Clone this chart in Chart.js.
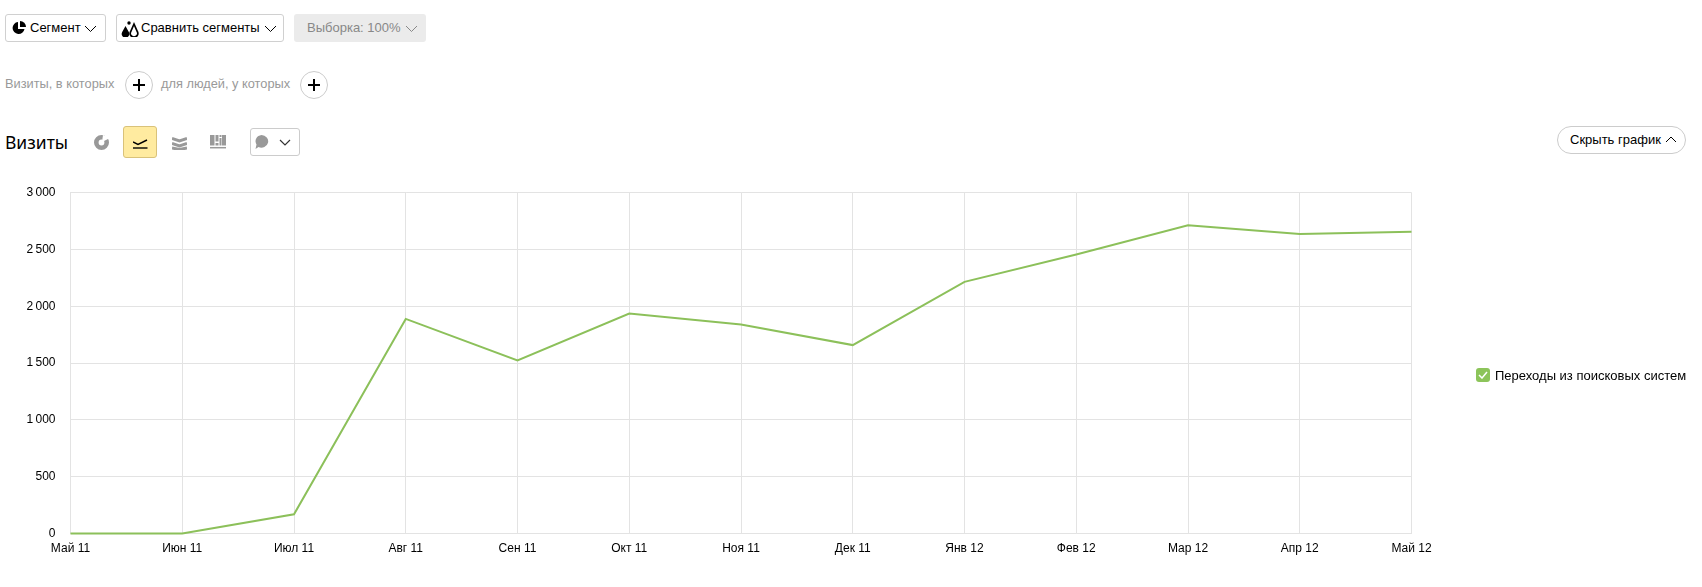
<!DOCTYPE html>
<html lang="ru">
<head>
<meta charset="utf-8">
<title>Визиты</title>
<script src="https://cdn.jsdelivr.net/npm/chart.js@4/dist/chart.umd.min.js"></script>
<style>
  html, body { margin: 0; padding: 0; background: #fff; width: 1702px; height: 587px; overflow: hidden; }
  body { position: relative; font-family: "Liberation Sans", Arial, sans-serif; font-size: 13px; color: #000; }
  .abs { position: absolute; box-sizing: border-box; white-space: nowrap; }
  .btn { height: 28px; border: 1px solid #d0d0d0; border-radius: 3px; line-height: 26px; background: #fff; }
  .btn svg, .round svg { position: absolute; }
  .grey { color: #999; font-size: 12.800px; }
  .round { width: 28px; height: 28px; border: 1px solid #ccc; border-radius: 50%; }
  #chartBox { position: absolute; left: 0; top: 170px; width: 1500px; height: 394px; }
</style>
</head>
<body>
<div class="abs btn" style="left:5px;top:14px;width:101px;">
  <svg style="left:6px;top:6px" width="14" height="14" viewBox="0 0 14 14"><path d="M6 1a6 6 0 1 0 6.500 7H6z" fill="#000"/><path d="M8 0a6 6 0 0 1 6 6H8z" fill="#000"/></svg>
  <span class="abs" style="left:24px;top:0">Сегмент</span>
  <svg style="left:78px;top:10px" width="13" height="8" viewBox="0 0 13 8"><path d="M1 1l5.500 5.500L12 1" fill="none" stroke="#000"/></svg>
</div>
<div class="abs btn" style="left:116px;top:14px;width:168px;">
  <svg style="left:4px;top:6px" width="18" height="16" viewBox="0 0 18 16"><path d="M4.500 5l3.300 6a3.800 3.800 0 1 1-6.600 0z" fill="#000"/><path d="M13 3l3.300 7.500a3.800 3.800 0 1 1-6.600 0z" fill="none" stroke="#000" stroke-width="1.700"/><circle cx="8" cy="2" r="1.700" fill="#000"/></svg>
  <span class="abs" style="left:24px;top:0">Сравнить сегменты</span>
  <svg style="left:147px;top:10px" width="13" height="8" viewBox="0 0 13 8"><path d="M1 1l5.500 5.500L12 1" fill="none" stroke="#000"/></svg>
</div>
<div class="abs" style="left:294px;top:14px;width:132px;height:28px;background:#ebebeb;border-radius:3px;line-height:27px;color:#888;">
  <span class="abs" style="left:13px;top:0">Выборка: 100%</span>
  <svg class="abs" style="left:111px;top:11px" width="13" height="8" viewBox="0 0 13 8"><path d="M1 1l5.500 5.500L12 1" fill="none" stroke="#888"/></svg>
</div>

<span class="abs grey" style="left:5px;top:76px;">Визиты, в которых</span>
<div class="abs round" style="left:125px;top:71px;"><svg style="left:6px;top:6px" width="14" height="14" viewBox="0 0 14 14"><path d="M7 1v12M1 7h12" stroke="#000" stroke-width="2"/></svg></div>
<span class="abs grey" style="left:161px;top:76px;">для людей, у которых</span>
<div class="abs round" style="left:300px;top:71px;"><svg style="left:6px;top:6px" width="14" height="14" viewBox="0 0 14 14"><path d="M7 1v12M1 7h12" stroke="#000" stroke-width="2"/></svg></div>

<span class="abs" style="left:5px;top:129px;font-family:'Noto Sans',sans-serif;font-size:17.500px;line-height:26px;">Визиты</span>
<svg class="abs" style="left:94px;top:135px" width="15" height="15" viewBox="0 0 15 15"><circle cx="7.500" cy="7.500" r="5.200" fill="none" stroke="#999" stroke-width="4.600"/><path d="M8 7l7-3.500-1-2L9 0z" fill="#fff"/></svg>
<div class="abs" style="left:123px;top:126px;width:34px;height:32px;background:#ffeba0;border:1px solid #d9c27a;border-radius:3px;">
  <svg class="abs" style="left:9px;top:11px" width="15" height="11" viewBox="0 0 15 11"><path d="M0 4l5 2.500L14 2" fill="none" stroke="#000" stroke-width="1.400"/><path d="M0 10h14.500" stroke="#000" stroke-width="1.400"/></svg>
</div>
<svg class="abs" style="left:172px;top:136px" width="15" height="14" viewBox="0 0 15 14"><path d="M0 2.500l7.500 2.500L15 2.500M0 7.500l7.500 2.500L15 7.500M0 12l7.500 1.500L15 12" fill="none" stroke="#999" stroke-width="3"/></svg>
<svg class="abs" style="left:210px;top:134px" width="16" height="15" viewBox="0 0 16 15"><path d="M0 1h4.500v10.500H0zM5.500 1h3v6.500h-3zM5.500 9h3v2.500h-3zM9.500 4h2v7.500h-2zM9.500 1h2v2h-2zM12 1h4v10.500h-4z" fill="#999"/><path d="M0 13.700h16" stroke="#999" stroke-width="1.500"/></svg>
<div class="abs btn" style="left:250px;top:128px;width:50px;height:28px;border-color:#ccc;">
  <svg style="left:3px;top:5px" width="15" height="16" viewBox="0 0 15 16"><path d="M7.500 1a6.800 6.300 0 1 1-3 12L1.500 15l1-4.500A6.800 6.300 0 0 1 7.500 1z" fill="#999"/></svg>
  <svg style="left:28px;top:10px" width="12" height="8" viewBox="0 0 12 8"><path d="M1 1l5 5 5-5" fill="none" stroke="#333" stroke-width="1.200"/></svg>
</div>

<div class="abs" style="left:1557px;top:126px;width:129px;height:28px;border:1px solid #ccc;border-radius:14px;">
  <span class="abs" style="left:12px;top:0;line-height:26px;">Скрыть график</span>
  <svg class="abs" style="left:107px;top:8px" width="12" height="8" viewBox="0 0 12 8"><path d="M1 7l5-5 5 5" fill="none" stroke="#000"/></svg>
</div>

<div id="chartBox"><canvas id="chart"></canvas></div>

<div class="abs" style="left:1476px;top:368px;width:14px;height:14px;background:#8cc45a;border-radius:3px;">
  <svg class="abs" style="left:2px;top:3px" width="10" height="8" viewBox="0 0 10 8"><path d="M1 4l3 3 5-6" fill="none" stroke="#fff" stroke-width="1.500"/></svg>
</div>
<span class="abs" id="legendLabel" style="left:1495px;top:368px;line-height:16px;"></span>

<script>
const months = ["Май 11", "Июн 11", "Июл 11", "Авг 11", "Сен 11", "Окт 11", "Ноя 11", "Дек 11", "Янв 12", "Фев 12", "Мар 12", "Апр 12", "Май 12"]
const visits = [0, 0, 170, 1888, 1524, 1936, 1840, 1658, 2214, 2454, 2712, 2636, 2655]
const seriesName = "Переходы из поисковых систем"
const yTicks = [0, 500, 1000, 1500, 2000, 2500, 3000]

document.querySelector("#legendLabel").innerText = seriesName

const gridColor = "#e3e3e3"
const tickFont = { family: "'Liberation Sans', Arial, sans-serif", size: 12 }

new Chart(document.querySelector("#chart").getContext("2d"), {
  type: "line",
  data: {
    labels: months,
    datasets: [{
      label: seriesName,
      data: visits,
      borderColor: "#8cc05a",
      borderWidth: 2,
      pointRadius: 0,
      tension: 0,
      clip: false
    }]
  },
  options: {
    responsive: true,
    maintainAspectRatio: false,
    animation: false,
    layout: { padding: { top: 22.5, right: 88.5, bottom: 0, left: 0 } },
    plugins: { legend: { display: false }, tooltip: { enabled: false } },
    scales: {
      x: {
        offset: false,
        grid: { color: gridColor, drawTicks: false },
        border: { color: gridColor },
        ticks: { color: "#000", font: tickFont, maxRotation: 0, autoSkip: false, padding: 8 }
      },
      y: {
        min: 0,
        max: 3000,
        afterBuildTicks: axis => { axis.ticks = yTicks.map(value => ({ value })) },
        afterFit: axis => { axis.width = 70.5 },
        grid: { color: gridColor, drawTicks: false },
        border: { color: gridColor },
        ticks: {
          color: "#000",
          font: tickFont,
          padding: 15,
          callback: value => String(value).replace(/\B(?=(\d{3})+$)/g, "\u2009")
        }
      }
    }
  }
})
</script>
</body>
</html>
